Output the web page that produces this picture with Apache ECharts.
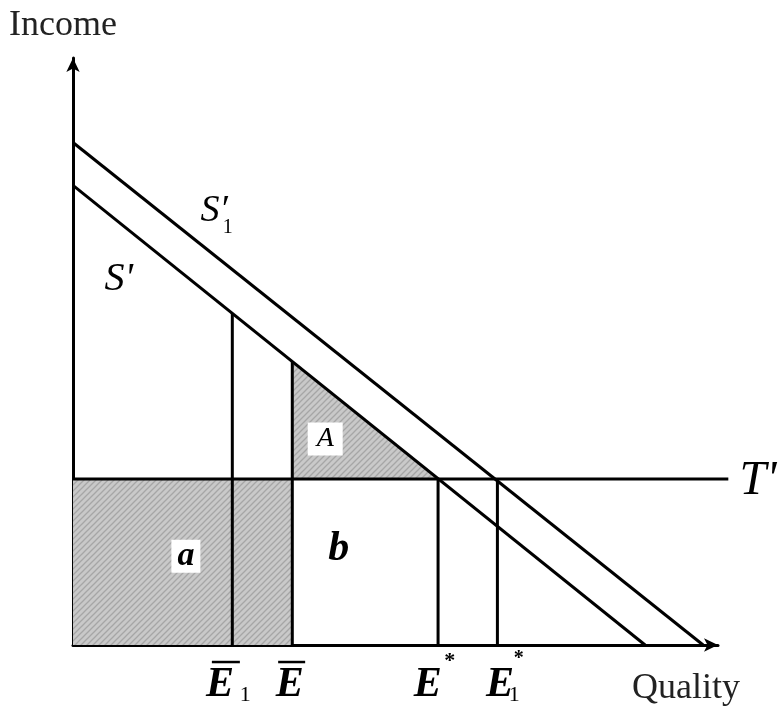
<!DOCTYPE html>
<html>
<head>
<meta charset="utf-8">
<script src="https://cdn.jsdelivr.net/npm/echarts@6/dist/echarts.min.js"></script>
<style>
html,body{margin:0;padding:0;background:#fff;}
#chart{width:779px;height:707px;}
</style>
</head>
<body>
<div id="chart"></div>
<script>
// ---- data (diagram units) ----
const xRange = [0, 100];
const yRange = [0, 100];
const supplyS = [[0, 78.3], [88.7, 0]];        // S'
const supplyS1 = [[0, 85.6], [97.7, 0]];       // S'_1
const taxLevel = 28.3;                          // T'
const taxEnd = 101.6;
const qualityMarks = [24.7, 34.0, 56.6, 65.8];  // E1bar, Ebar, E*, E1*
const verticalTops = [56.5, 48.3, 28.3, 28.3];

const SERIF = '"Liberation Serif", "DejaVu Serif", serif';

function hatchPattern() {
  const s = 6;
  const c = document.createElement('canvas');
  c.width = s; c.height = s;
  const g = c.getContext('2d');
  g.fillStyle = '#c9c9c9';
  g.fillRect(0, 0, s, s);
  g.strokeStyle = '#a6a6a6';
  g.lineWidth = 1.3;
  g.beginPath();
  g.moveTo(0, s); g.lineTo(s, 0);
  g.moveTo(-s / 2, s / 2); g.lineTo(s / 2, -s / 2);
  g.moveTo(s / 2, s * 1.5); g.lineTo(s * 1.5, s / 2);
  g.stroke();
  return c;
}

const shadedRegions = [
  [[0, 0], [qualityMarks[1], 0], [qualityMarks[1], taxLevel], [0, taxLevel]],
  [[qualityMarks[1], taxLevel], [qualityMarks[1], verticalTops[1]], [qualityMarks[2], taxLevel]]
];

const lineStyle = { color: '#000', width: 3 };
function seg(data, extra) {
  return Object.assign({
    type: 'line', data: data, symbol: 'none', lineStyle: lineStyle,
    silent: true, z: 3, animation: false
  }, extra || {});
}

const pattern = { image: hatchPattern(), repeat: 'repeat' };

const series = [
  {
    type: 'custom',
    data: shadedRegions.map(p => p[0]),
    z: 1,
    silent: true,
    animation: false,
    renderItem: function (params, api) {
      const poly = shadedRegions[params.dataIndex].map(pt => api.coord(pt));
      return { type: 'polygon', shape: { points: poly }, style: { fill: pattern, stroke: null } };
    }
  },
  seg(supplyS),
  seg(supplyS1),
  {
    type: 'custom',
    data: [[0, taxLevel, taxEnd]],
    clip: false,
    z: 3,
    silent: true,
    animation: false,
    renderItem: function (params, api) {
      const a = api.coord([api.value(0), api.value(1)]);
      const b = api.coord([api.value(2), api.value(1)]);
      return { type: 'line', shape: { x1: a[0], y1: a[1], x2: b[0], y2: b[1] }, style: { stroke: '#000', lineWidth: 3 } };
    }
  }
];
qualityMarks.forEach((q, i) => series.push(seg([[q, 0], [q, verticalTops[i]]])));

const option = {
  animation: false,
  grid: { left: 73, right: 61, top: 58, bottom: 59 },
  xAxis: {
    type: 'value', min: xRange[0], max: xRange[1],
    axisLine: { show: true, lineStyle: { color: '#000', width: 3 }, symbol: ['none', 'arrow'], symbolSize: [10, 14] },
    axisTick: { show: false }, axisLabel: { show: false }, splitLine: { show: false },
    name: 'Quality', nameLocation: 'end', nameGap: 22,
    nameTextStyle: { fontFamily: SERIF, fontSize: 36, color: '#222', align: 'right', verticalAlign: 'top', padding: [26, 0, 0, 0] }
  },
  yAxis: {
    type: 'value', min: yRange[0], max: yRange[1],
    axisLine: { show: true, lineStyle: { color: '#000', width: 3 }, symbol: ['none', 'arrow'], symbolSize: [10, 14] },
    axisTick: { show: false }, axisLabel: { show: false }, splitLine: { show: false },
    name: 'Income', nameLocation: 'end', nameGap: 14,
    nameTextStyle: { fontFamily: SERIF, fontSize: 36, color: '#222', align: 'center', verticalAlign: 'bottom', padding: [0, 20, 0, 0] }
  },
  series: series
};

const chart = echarts.init(document.getElementById('chart'), null, { renderer: 'canvas' });
chart.setOption(option);

// ---- annotations (anchored in diagram units) ----
const annotations = [
  { text: "S'", at: [7.1, 62.3], font: 'italic 40px ' + SERIF },
  { text: 'S\u2032', at: [21.9, 74.0], font: 'italic 38px ' + SERIF },
  { text: '1', at: [24.0, 71.0], font: '20px ' + SERIF },
  { text: "T'", at: [106.2, 27.8], font: 'italic 48px ' + SERIF },
  { text: 'A', at: [39.1, 35.1], font: 'italic 28px ' + SERIF, box: [35, 33] },
  { text: 'a', at: [17.5, 15.1], font: 'italic bold 34px ' + SERIF, box: [29, 33] },
  { text: 'b', at: [41.2, 16.3], font: 'italic bold 42px ' + SERIF },
  { text: 'E', at: [22.8, -6.8], font: 'italic bold 42px ' + SERIF },
  { bar: 28, at: [23.7, -2.9] },
  { text: '1', at: [26.7, -8.5], font: '22px ' + SERIF },
  { text: 'E', at: [33.6, -6.8], font: 'italic bold 42px ' + SERIF },
  { bar: 27, at: [33.9, -2.9] },
  { text: 'E', at: [55.0, -6.8], font: 'italic bold 42px ' + SERIF },
  { text: '*', at: [58.4, -2.7], font: 'bold 22px ' + SERIF },
  { text: 'E', at: [66.2, -6.8], font: 'italic bold 42px ' + SERIF },
  { text: '*', at: [69.1, -2.4], font: 'bold 20px ' + SERIF },
  { text: '1', at: [68.4, -8.5], font: '22px ' + SERIF }
];

const graphics = [];
annotations.forEach(a => {
  const p = chart.convertToPixel({ gridIndex: 0 }, a.at);
  if (a.bar) {
    graphics.push({ type: 'line', shape: { x1: p[0] - a.bar / 2, y1: p[1], x2: p[0] + a.bar / 2, y2: p[1] }, style: { stroke: '#000', lineWidth: 2.5 }, z: 10 });
    return;
  }
  if (a.box) {
    graphics.push({ type: 'rect', shape: { x: p[0] - a.box[0] / 2, y: p[1] - a.box[1] / 2, width: a.box[0], height: a.box[1] }, style: { fill: '#fff' }, z: 9 });
  }
  graphics.push({
    type: 'text', x: p[0], y: p[1], z: 10,
    style: { text: a.text, font: a.font, fill: '#000', textAlign: 'center', textVerticalAlign: 'middle' }
  });
});
chart.setOption({ graphic: graphics });
</script>
</body>
</html>
